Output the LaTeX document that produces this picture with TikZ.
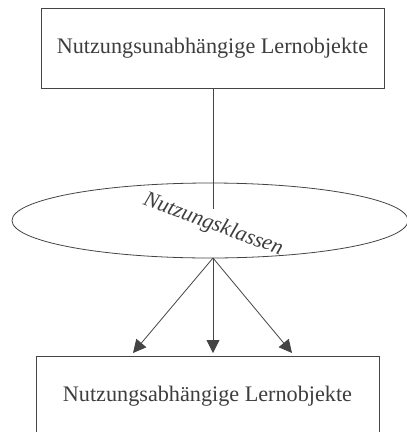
\documentclass[tikz,border=0pt]{standalone}
\usepackage{fontspec}
\setmainfont{Liberation Serif}[ItalicFont={Liberation Serif Italic}]
\usetikzlibrary{shapes.geometric,arrows.meta,calc}
\definecolor{ink}{HTML}{444444}
\begin{document}
\begin{tikzpicture}[x=1pt,y=-1pt,
  box/.style={draw=ink,line width=0.8pt,minimum width=343pt,minimum height=80pt,
    inner sep=0pt,font=\fontsize{22.2}{26}\selectfont,text=ink!90!black},
  link/.style={draw=ink,line width=0.8pt},
  tip/.style={link,-{Triangle[length=13pt,width=13pt]}}]
\useasboundingbox (0,0) rectangle (407,432);
\clip (0,0) rectangle (407,432);
% upper and lower boxes
\node[box] (top) at (212.5,48) {Nutzungsunabhängige Lernobjekte};
\node[box] (bot) at (207.5,396) {Nutzungsabhängige Lernobjekte};
% classification ellipse
\node[ellipse,draw=ink,line width=0.8pt,minimum width=396pt,minimum height=75pt,inner sep=0pt]
  (cls) at (210,220.5) {};
\node[rotate=-20,font=\fontsize{22}{26}\selectfont\itshape,text=ink!90!black,inner sep=0pt]
  (lbl) at (213,225) {Nutzungsklassen};
% connectors
\coordinate (mid) at (213,209);
\coordinate (src) at (213,258);
\coordinate (t1) at (133,353);
\coordinate (t2) at (213,353);
\coordinate (t3) at (292,353);
\draw[link] (top.south -| mid) -- (mid);
\draw[tip] (src) -- (t1);
\draw[tip] (src) -- (t2);
\draw[tip] (src) -- (t3);
\end{tikzpicture}
\end{document}
